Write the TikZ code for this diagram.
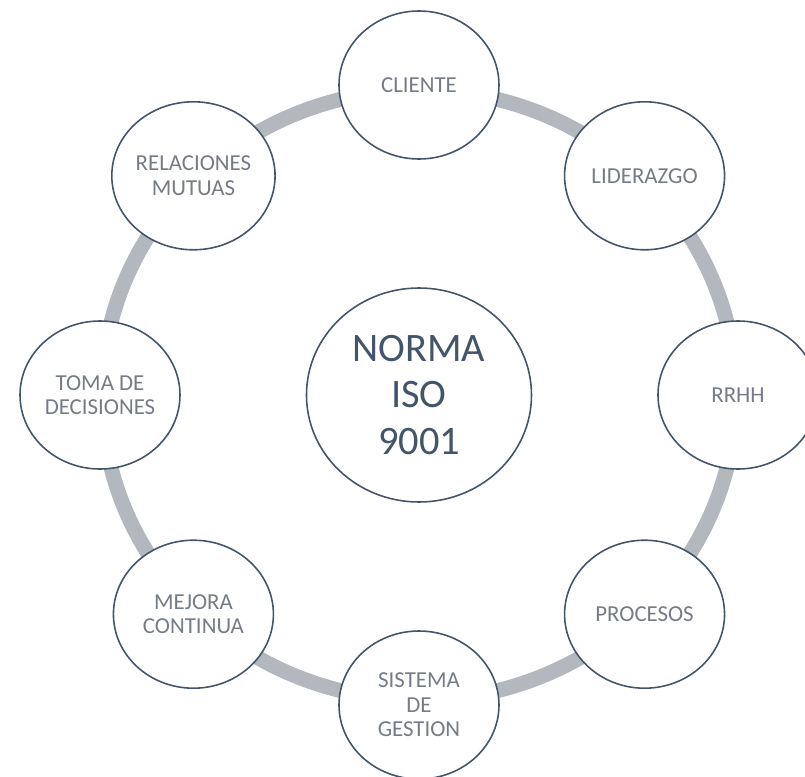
\documentclass[tikz,border=0pt]{standalone}
\usepackage{fontspec}
\setmainfont{Carlito}
\usetikzlibrary{shapes.geometric}

\definecolor{ringgray}{RGB}{179,183,190}
\definecolor{slate}{HTML}{44546A}
\definecolor{labelgray}{RGB}{118,124,135}

\begin{document}
\begin{tikzpicture}[
    principle/.style={ellipse, draw=slate, line width=0.9pt, fill=white,
        minimum width=3.2cm, minimum height=2.96cm, inner sep=0pt,
        align=center, text=labelgray, font=\fontsize{13}{14}\selectfont},
    norm/.style={ellipse, draw=slate, line width=0.9pt, fill=white,
        minimum width=4.5cm, minimum height=4.28cm, inner sep=0pt,
        align=center, text=slate, font=\fontsize{23}{26.5}\selectfont}
]
    \useasboundingbox (-8.38,-7.62) rectangle (7.72,7.9);

    % Ring behind the principles
    \coordinate (o) at (0,0);
    \draw[ringgray, line width=8.5pt] (o) ellipse [x radius=6.34, y radius=6.1];

    % Centre
    \node[norm] (norma) at (o) {NORMA\\ISO\\9001};

    % Principles round the ring
    \node[principle] (cliente) at (90:6.38 and 6.2) {CLIENTE};
    \node[principle] (liderazgo) at (45:6.38 and 6.2) {LIDERAZGO};
    \node[principle] (rrhh) at (0:6.38 and 6.2) {RRHH};
    \node[principle] (procesos) at (-45:6.38 and 6.2) {PROCESOS};
    \node[principle] (sistema) at (-90:6.38 and 6.2) {SISTEMA\\DE\\GESTION};
    \node[principle] (mejora) at (-135:6.38 and 6.2) {MEJORA\\CONTINUA};
    \node[principle] (toma) at (180:6.38 and 6.2) {TOMA DE\\DECISIONES};
    \node[principle] (relaciones) at (135:6.38 and 6.2) {RELACIONES\\MUTUAS};
\end{tikzpicture}
\end{document}
